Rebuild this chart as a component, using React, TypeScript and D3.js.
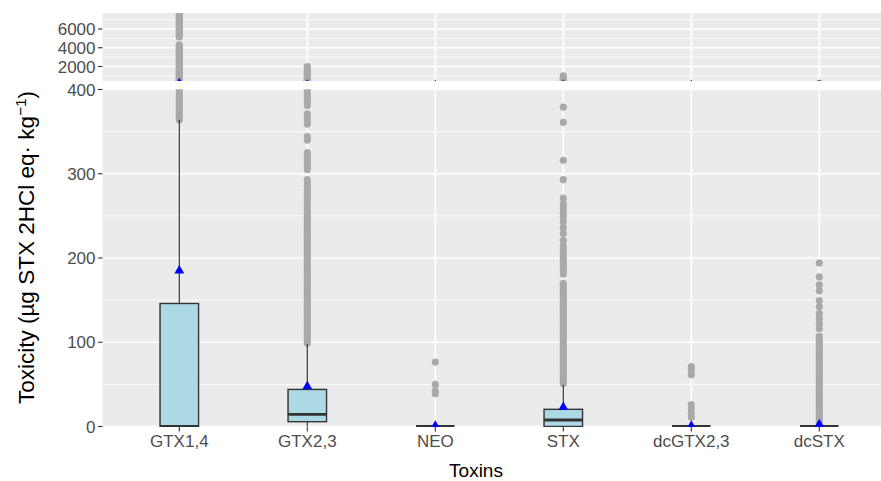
import React from 'react';
import * as d3 from 'd3';

// toxin categories and box statistics
const toxins = ['GTX1,4', 'GTX2,3', 'NEO', 'STX', 'dcGTX2,3', 'dcSTX'];
const lowerWhisker = [0, 0, 0, 0, 0, 0];
const q1 = [0, 5.7, 0, 0, 0, 0];
const median = [0, 14.5, 0, 7.7, 0, 0];
const q3 = [146, 44, 0, 20.4, 0, 0];
const upperWhisker = [364, 97.6, 0, 49, 0, 0];
const means = [185, 47.5, 0.8, 23, 0.6, 2.5];

const outGTX14 = [364, 367, 370, 373, 376, 379, 382, 385, 388, 391, 394, 397, 400,
  440, 560, 690, 820, 960, 1100, 1240, 1390, 1530, 1680, 1820, 1970, 2110, 2260, 2400,
  2550, 2700, 2840, 2990, 3130, 3280, 3420, 3570, 3710, 3860, 4000, 4150, 4300,
  5150, 5300, 5440, 5590, 5730, 5880, 6100, 6240, 6390, 6530, 6680, 6820, 6970, 7110, 7260, 7400, 7550, 7700];
const outGTX23 = [99, 102, 105, 108, 111, 114, 117, 120, 123, 126, 129, 132, 135, 138, 141,
  144, 147, 150, 153, 156, 159, 162, 165, 168, 171, 174, 177, 180, 183, 186, 189, 192, 195,
  198, 201, 204, 207, 210, 213, 216, 219, 222, 225, 228, 231, 234, 237, 240, 243, 246, 249,
  253, 257, 261, 265, 269, 273, 277, 281, 285, 289, 293, 305, 309, 313, 317, 321, 325,
  340, 344, 359, 363, 367, 371, 381, 385, 389, 393, 397, 400,
  450, 600, 760, 920, 1080, 1250, 1420, 1600, 1800, 2000];
const outNEO = [39, 42, 50, 76.5];
const outSTX = [51, 54, 57, 60, 63, 66, 69, 72, 75, 78, 81, 84, 87, 90, 93, 96, 99, 102,
  105, 108, 111, 114, 117, 120, 123, 126, 129, 132, 135, 138, 141, 144, 147, 150, 153, 156,
  159, 162, 165, 168, 170, 181, 185, 189, 193, 197, 201, 205, 209, 214, 221, 229, 236, 243,
  249, 254, 259, 264, 271, 293, 316, 361, 379, 450, 620, 800, 1000];
const outdcGTX23 = [11, 16, 21, 26, 61.5, 67.5, 71];
const outdcSTX = [5, 8, 11, 14, 17, 20, 23, 26, 29, 32, 35, 38, 41, 44, 47, 50, 53, 56, 59,
  62, 65, 68, 71, 74, 77, 80, 83, 86, 89, 92, 95, 98, 101, 104, 107, 116, 122, 128, 134, 142,
  149.5, 161, 168, 177.5, 194];
const outliers = [outGTX14, outGTX23, outNEO, outSTX, outdcGTX23, outdcSTX];

const lowTicks = [0, 100, 200, 300, 400];
const lowMinor = [50, 150, 250, 350];
const highTicks = [2000, 4000, 6000];
const highMinor = [1000, 3000, 5000, 7000];

const W = 881;
const H = 481;
const left = 102.5;
const right = 881;
const lowPanel = { top: 89.5, bottom: 427 };
const highPanel = { top: 13, bottom: 81 };
const font = '"Liberation Sans", Arial, Helvetica, sans-serif';

export default function App() {
  const x = d3.scalePoint<string>().domain(toxins).range([179.3, 819.3]);
  const yLow = d3.scaleLinear().domain([0, 400]).range([426.5, 89.5]);
  const yHigh = d3.scaleLinear().domain([2000, 6000]).range([66.5, 29]);
  const boxW = 38.5;
  const tri = d3.symbol().type(d3.symbolTriangle).size(42)() as string;

  const panel = (id: string, y: d3.ScaleLinear<number, number>, p: { top: number; bottom: number },
    ticks: number[], minor: number[]) => (
    <g>
      <defs>
        <clipPath id={id}>
          <rect x={left} y={p.top} width={right - left} height={p.bottom - p.top} />
        </clipPath>
      </defs>
      <rect x={left} y={p.top} width={right - left} height={p.bottom - p.top} fill="#EBEBEB" />
      <g clipPath={`url(#${id})`}>
        {minor.map(v => (
          <line key={'m' + v} x1={left} x2={right} y1={y(v)} y2={y(v)} stroke="#fff" strokeWidth={0.9} />
        ))}
        {ticks.map(v => (
          <line key={'t' + v} x1={left} x2={right} y1={y(v)} y2={y(v)} stroke="#fff" strokeWidth={1.6} />
        ))}
        {toxins.map(t => (
          <line key={t} x1={x(t)} x2={x(t)} y1={p.top} y2={p.bottom} stroke="#fff" strokeWidth={1.6} />
        ))}
        {toxins.map((t, i) => {
          const cx = x(t) as number;
          return (
            <g key={'b' + t}>
              {outliers[i].map((v, j) => (
                <circle key={j} cx={cx} cy={y(v)} r={3.6} fill="#A9A9A9" />
              ))}
              <line x1={cx} x2={cx} y1={y(q3[i])} y2={y(upperWhisker[i])} stroke="#333" strokeWidth={1.2} />
              <line x1={cx} x2={cx} y1={y(q1[i])} y2={y(lowerWhisker[i])} stroke="#333" strokeWidth={1.2} />
              <rect x={cx - boxW / 2} y={y(q3[i])} width={boxW} height={Math.max(0, y(q1[i]) - y(q3[i]))}
                fill="#ADD8E6" stroke="#333" strokeWidth={1.4} />
              <line x1={cx - boxW / 2} x2={cx + boxW / 2} y1={y(median[i])} y2={y(median[i])} stroke="#333" strokeWidth={2.8} />
              <path d={tri} transform={`translate(${cx},${y(means[i])})`} fill="#0000FF" />
            </g>
          );
        })}
      </g>
      {ticks.map(v => (
        <g key={'l' + v} transform={`translate(0,${y(v)})`}>
          <line x1={left - 4.5} x2={left} stroke="#333" strokeWidth={1.1} />
          <text x={left - 7} dy="0.36em" textAnchor="end" fontSize={17} fill="#4D4D4D" fontFamily={font}>
            {v}
          </text>
        </g>
      ))}
    </g>
  );

  return (
    <svg width={W} height={H} style={{ position: 'absolute', left: 0, top: 0, background: '#fff' }}>
      {panel('clipHigh', yHigh, highPanel, highTicks, highMinor)}
      {panel('clipLow', yLow, lowPanel, lowTicks, lowMinor)}
      {toxins.map(t => (
        <g key={'x' + t} transform={`translate(${x(t)},${lowPanel.bottom})`}>
          <line y1={0} y2={4.5} stroke="#333" strokeWidth={1.1} />
          <text y={19.5} textAnchor="middle" fontSize={17} fill="#4D4D4D" fontFamily={font}>{t}</text>
        </g>
      ))}
      <text x={476} y={477} textAnchor="middle" fontSize={19} fill="#000" fontFamily={font}>Toxins</text>
      <text transform="translate(34,247.5) rotate(-90)" textAnchor="middle" fontSize={22.5} fill="#000" fontFamily={font}>
        Toxicity (µg STX 2HCl eq· kg
        <tspan dy={-8.5} fontSize={15.5}>−1</tspan>
        <tspan dy={8.5}>)</tspan>
      </text>
    </svg>
  );
}
